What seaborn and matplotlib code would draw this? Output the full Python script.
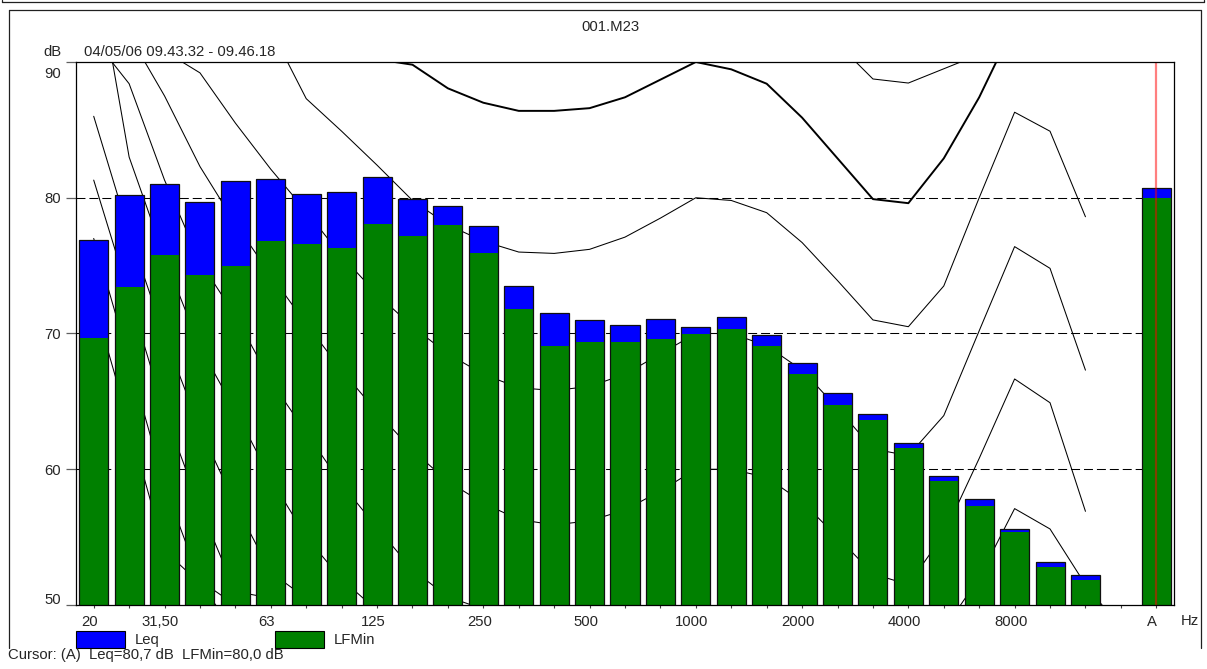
import numpy as np
import pandas as pd
import matplotlib
matplotlib.use("Agg")
import matplotlib.pyplot as plt
import matplotlib.transforms as mtransforms
from matplotlib.patches import Rectangle
from matplotlib.lines import Line2D
import seaborn as sns

nan = np.nan

# ---------------- data ----------------
bands = ["20", "25", "31.5", "40", "50", "63", "80", "100", "125", "160", "200",
         "250", "315", "400", "500", "630", "800", "1000", "1250", "1600", "2000",
         "2500", "3150", "4000", "5000", "6300", "8000", "10000", "12500", "16000", "A"]

leq = [76.9, 80.2, 81.0, 79.7, 81.2, 81.4, 80.3, 80.4, 81.5, 79.9, 79.4,
       77.9, 73.5, 71.5, 71.0, 70.6, 71.1, 70.5, 71.2, 69.9, 67.85,
       65.6, 64.05, 61.9, 59.5, 57.8, 55.6, 53.2, 52.2, nan, 80.7]

lfmin = [69.7, 73.4, 75.8, 74.3, 75.0, 76.8, 76.6, 76.3, 78.1, 77.2, 78.0,
         75.9, 71.8, 69.1, 69.35, 69.4, 69.6, 69.95, 70.3, 69.1, 67.0,
         64.7, 63.6, 61.6, 59.15, 57.3, 55.4, 52.8, 51.85, nan, 80.0]

tick_bands = ["20", "31.5", "63", "125", "250", "500", "1000", "2000", "4000", "8000", "A"]
tick_labels = ["20", "31,50", "63", "125", "250", "500", "1000", "2000", "4000", "8000", "A"]

# reference contours, values per band (20 Hz ... 16 kHz), nan = not drawn
c100 = [nan]*19 + [96.0, 94.0, 91.35, 88.75, 88.45, 89.5, 90.55, nan, nan, nan, nan]
c90 = [nan]*8 + [90.2, 89.8, 88.06, 87.0, 86.4, 86.4, 86.6, 87.4, 88.7, 90.0,
                 89.46, 88.4, 85.9, 82.9, 79.9, 79.6, 82.9, 87.4, 92.8, nan, nan, nan]
c80 = [nan, nan, nan, nan, 97.0, 92.4, 87.3, 84.9, 82.4, 79.8, 78.0, 76.8, 76.0, 75.9,
       76.2, 77.1, 78.5, 80.0, 79.8, 78.9, 76.7, 73.9, 71.0, 70.5, 73.5, 80.0,
       86.3, 84.9, 78.6, nan]
c70 = [nan, 92.0, 90.8, 89.2, 85.5, 82.1, 79.0, 75.7, 72.9, 70.5, 68.5, 67.0, 66.0,
       65.8, 66.1, 67.0, 68.5, 70.0, 70.0, 69.1, 67.3, 64.5, 61.5, 61.0, 63.95,
       70.2, 76.4, 74.8, 67.3, nan]
c60 = [nan, 92.0, 87.5, 82.3, 78.1, 74.3, 70.7, 67.3, 64.2, 61.4, 59.1, 57.5, 56.3,
       55.9, 56.2, 57.0, 58.4, 60.0, 60.0, 59.4, 57.6, 55.0, 52.3, 51.5, 55.2,
       60.8, 66.65, 64.9, 56.9, nan]
c50 = [91.7, 88.4, 81.3, 75.3, 71.3, 66.5, 62.7, 58.9, 55.7, 52.6, 50.6, 49.7, 48.3,
       47.6, 47.5, 48.0, 49.0, 50.0, 49.9, 49.2, 47.5, 45.0, 43.0, 43.5, 48.2,
       52.0, 57.1, 55.6, 51.5, 48.3]
c40 = [97.9, 83.0, 75.6, 69.0, 64.3, 59.3, 55.0, 51.9, 49.6, 47.5] + [nan]*20
c30 = [86.0, 77.4, 69.8, 63.0, 57.4, 52.4, 50.5, 48.0] + [nan]*22
c20 = [81.3, 72.8, 64.2, 57.2, 51.0, 50.5, 48.0] + [nan]*23
c10 = [77.0, 68.0, 58.8, 51.8, 50.0, 48.0] + [nan]*24
c0 = [72.4, 63.3, 54.0, 51.6, 48.0] + [nan]*25

thin_contours = [c100, c80, c70, c60, c50, c40, c30, c20, c10, c0]

# ---------------- figure ----------------
W, H = 1207, 669
FS = 10.7
sns.set_theme(style="white")
plt.rcParams["font.family"] = ["Liberation Sans", "DejaVu Sans"]
plt.rcParams["font.size"] = FS

fig = plt.figure(figsize=(W / 100, H / 100), dpi=100)
fig.patch.set_facecolor("white")


def fx(x):
    return x / W


def fy(y):
    return 1 - y / H


ax_l, ax_r, ax_t, ax_b = 76, 1174, 62, 605
ax = fig.add_axes([fx(ax_l), fy(ax_b), (ax_r - ax_l) / W, (ax_b - ax_t) / H])
ax.set_facecolor("white")

df = pd.DataFrame({"band": bands, "Leq": leq, "LFMin": lfmin}).dropna()

sns.barplot(data=df, x="band", y="Leq", order=bands, color="#0000FF", saturation=1,
            width=0.82, errorbar=None, edgecolor="none", linewidth=0, ax=ax)
n1 = len(ax.patches)
sns.barplot(data=df, x="band", y="LFMin", order=bands, color="#008000", saturation=1,
            width=0.82, errorbar=None, edgecolor="none", linewidth=0, ax=ax)
n2 = len(ax.patches)
sns.barplot(data=df, x="band", y="Leq", order=bands, color="#101010", fill=False,
            width=0.82, errorbar=None, linewidth=0.9, ax=ax)
for i, p in enumerate(ax.patches):
    p.set_zorder(3.0 if i < n1 else (3.1 if i < n2 else 3.5))

xs = np.arange(len(c80))
for c in thin_contours:
    ax.plot(xs, c, color="black", lw=0.75, zorder=1.5)
ax.plot(xs, c90, color="black", lw=1.4, zorder=1.5)

for yv in [60, 70, 80]:
    ax.axhline(yv, color="black", lw=0.75, ls=(0, (8.6, 3.8)), zorder=1.2)

ax.axvline(bands.index("A"), color="red", alpha=0.5, lw=1.6, zorder=5)

ax.set_xlim(-0.5, 30.5)
ax.set_ylim(50, 90)
ax.set_xlabel("")
ax.set_ylabel("")

ax.set_xticks(range(len(bands)), minor=True)
ax.set_xticks([bands.index(b) for b in tick_bands])
ax.set_xticklabels(tick_labels, fontsize=FS)
ax.tick_params(axis="x", which="both", direction="out", length=2.5, width=0.8,
               color="#404040", pad=5, bottom=True)
ax.set_yticks([50, 60, 70, 80, 90])
ax.set_yticklabels(["50", "60", "70", "80", "90"], fontsize=FS)
ax.tick_params(axis="y", direction="out", length=7, width=0.9, color="#606060", pad=4, left=True)

# offset x labels slightly to the left and extreme y labels inward
off_x = mtransforms.ScaledTranslation(-4 / 100, 0, fig.dpi_scale_trans)
for lab in ax.get_xticklabels():
    lab.set_transform(lab.get_transform() + off_x)
ylabs = ax.get_yticklabels()
ylabs[-1].set_transform(ylabs[-1].get_transform() + mtransforms.ScaledTranslation(0, -11 / 100, fig.dpi_scale_trans))
ylabs[0].set_transform(ylabs[0].get_transform() + mtransforms.ScaledTranslation(0, 7 / 100, fig.dpi_scale_trans))

for s in ax.spines.values():
    s.set_visible(True)
    s.set_color("black")
    s.set_linewidth(0.9)
    s.set_zorder(6)

# ---------------- texts ----------------
fig.text(fx(610), fy(27), "001.M23", ha="center", va="center", fontsize=FS)
fig.text(fx(62), fy(52), "dB", ha="right", va="center", fontsize=FS)
fig.text(fx(84), fy(52), "04/05/06 09.43.32 - 09.46.18", ha="left", va="center", fontsize=FS)
fig.text(fx(1181), fy(621), "Hz", ha="left", va="center", fontsize=FS)
fig.text(fx(8), fy(655), "Cursor: (A)  Leq=80,7 dB  LFMin=80,0 dB", ha="left", va="center", fontsize=FS)

# legend
for x0, col, lab in [(76, "#0000FF", "Leq"), (275, "#008000", "LFMin")]:
    fig.add_artist(Rectangle((fx(x0), fy(648)), 49 / W, 17 / H, transform=fig.transFigure,
                             facecolor=col, edgecolor="black", lw=0.8))
    fig.text(fx(x0 + 59), fy(640), lab, ha="left", va="center", fontsize=FS)

# frames
frame_kw = dict(transform=fig.transFigure, color="#202020", lw=0.9)
fig.add_artist(Line2D([fx(9), fx(1201)], [fy(10), fy(10)], **frame_kw))
fig.add_artist(Line2D([fx(9), fx(9)], [fy(10), fy(648)], **frame_kw))
fig.add_artist(Line2D([fx(1201), fx(1201)], [fy(10), fy(648)], **frame_kw))
fig.add_artist(Line2D([fx(2), fx(1204)], [fy(2), fy(2)], **frame_kw))
fig.add_artist(Line2D([fx(2), fx(2)], [fy(0), fy(2)], **frame_kw))
fig.add_artist(Line2D([fx(1204), fx(1204)], [fy(0), fy(2)], **frame_kw))

fig.savefig("out.png", dpi=100)
